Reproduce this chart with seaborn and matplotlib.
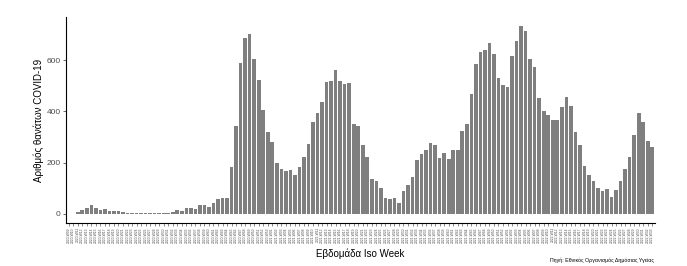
import matplotlib
matplotlib.use("Agg")
import matplotlib.pyplot as plt
import seaborn as sns
import pandas as pd

# ISO week labels
weeks_2020 = [f"2020-W{w:02d}" for w in range(9, 54)]
weeks_2021 = [f"2021-W{w:02d}" for w in range(1, 53)]
weeks_2022 = [f"2022-W{w:02d}" for w in range(1, 34)]
week_labels = weeks_2020 + weeks_2021 + weeks_2022

deaths_2020 = [0, 0, 5, 15, 24, 32, 21, 13, 20, 9, 9, 12, 5, 3, 2, 4, 2, 2, 2, 2,
               4, 4, 4, 5, 16, 12, 21, 24, 20, 35, 35, 25, 43, 59, 63, 63, 181, 342,
               590, 686, 702, 604, 525, 405, 319]
deaths_2021 = [280, 197, 176, 166, 169, 153, 182, 221, 271, 360, 392, 435, 515, 519,
               561, 521, 507, 510, 350, 342, 267, 221, 137, 129, 102, 63, 56, 62, 43,
               87, 114, 145, 208, 235, 251, 278, 267, 216, 239, 212, 251, 251, 325,
               349, 470, 584, 633, 639, 667, 623, 529, 502]
deaths_2022 = [494, 616, 674, 733, 714, 604, 572, 451, 400, 388, 365, 365, 416, 455,
               420, 318, 267, 188, 153, 129, 102, 90, 98, 67, 94, 129, 176, 220, 306,
               392, 357, 286, 260]
deaths = deaths_2020 + deaths_2021 + deaths_2022

y_ticks = [0, 200, 400, 600]
title_y = "Αριθμός θανάτων COVID-19"
title_x = "Εβδομάδα Iso Week"
caption = "Πηγή: Εθνικός Οργανισμός Δημόσιας Υγείας"

df = pd.DataFrame({"week": week_labels, "deaths": deaths})

sns.set_theme(style="white")
plt.rcParams["font.family"] = ["Liberation Sans", "DejaVu Sans"]

fig = plt.figure(figsize=(6.87, 2.66), dpi=100)
ax = fig.add_axes([66 / 687, 1 - 223 / 266, (655 - 66) / 687, (223 - 17) / 266])

sns.barplot(data=df, x="week", y="deaths", color="#7f7f7f", saturation=1,
            width=0.8, linewidth=0, edgecolor="none", ax=ax)

n = len(deaths)
ax.set_xlim(-0.6, n - 1 + 0.6)
top = max(deaths)
ax.set_ylim(-0.05 * top, top * 1.05)
ax.set_yticks(y_ticks)
ax.set_yticklabels([str(v) for v in y_ticks], color="#4d4d4d", fontsize=6)
ax.set_xticks(range(n))
ax.set_xticklabels(week_labels, rotation=90, fontsize=2.4, color="#4d4d4d")

for s in ["top", "right"]:
    ax.spines[s].set_visible(False)
for s in ["left", "bottom"]:
    ax.spines[s].set_color("black")
    ax.spines[s].set_linewidth(0.8)

ax.tick_params(axis="y", length=2.5, width=0.5, color="#333333", pad=1.5, left=True)
ax.tick_params(axis="x", length=2, width=0.4, color="#333333", pad=1, bottom=True)

ax.set_ylabel(title_y, fontsize=7, color="black", labelpad=2)
ax.set_xlabel(title_x, fontsize=7, color="black", labelpad=4)
ax.grid(False)

fig.text(654 / 687, 1 - 262 / 266, caption, ha="right", va="baseline",
         fontsize=3.8, color="black")

fig.savefig("out.png", dpi=100, facecolor="white")
